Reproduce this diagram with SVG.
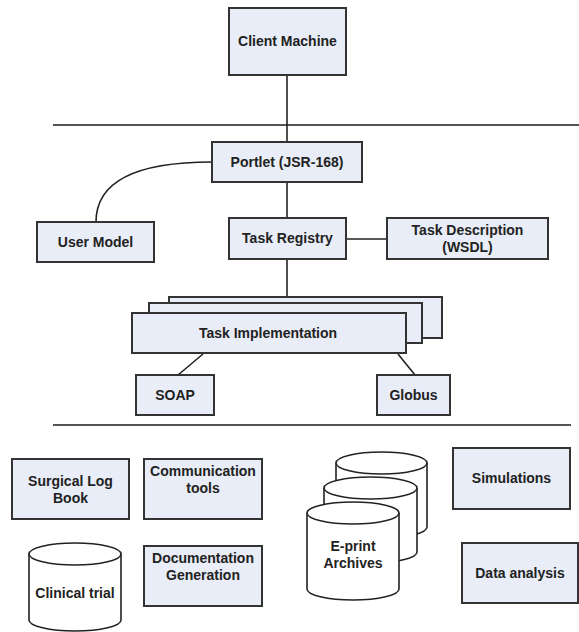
<svg xmlns="http://www.w3.org/2000/svg" width="579" height="632" viewBox="0 0 579 632">
<style>
.box{fill:#e8edf7;stroke:#333;stroke-width:2}
.cyl{fill:#fff;stroke:#222;stroke-width:1.6}
.ln{fill:none;stroke:#222;stroke-width:1.6}
.sep{fill:none;stroke:#555;stroke-width:2}
text{font-family:"Liberation Sans",Arial,sans-serif;font-weight:bold;font-size:14px;fill:#222;text-anchor:middle}
</style>
<rect width="579" height="632" fill="#fff"/>
<g id="connectors">
<line class="sep" x1="53" y1="125" x2="579" y2="125"/>
<line class="sep" x1="53" y1="425" x2="571" y2="425"/>
<line class="ln" x1="287" y1="75" x2="287" y2="142"/>
<line class="ln" x1="287" y1="182" x2="287" y2="218"/>
<path class="ln" d="M96,222 C96,180 140,162 212,162"/>
<line class="ln" x1="346" y1="239" x2="387" y2="239"/>
<line class="ln" x1="287" y1="259" x2="287" y2="297"/>
<line class="ln" x1="203" y1="354" x2="178" y2="375"/>
<line class="ln" x1="398" y1="354" x2="415" y2="375"/>
</g>
<g id="client">
<rect class="box" x="229" y="8" width="117" height="67"/>
<text x="287.5" y="46">Client Machine</text>
</g>
<g id="portlet">
<rect class="box" x="212" y="142" width="150" height="40"/>
<text x="287" y="167">Portlet (JSR-168)</text>
</g>
<g id="usermodel">
<rect class="box" x="37" y="222" width="117" height="40"/>
<text x="95.5" y="247">User Model</text>
</g>
<g id="registry">
<rect class="box" x="229" y="218" width="117" height="41"/>
<text x="287.5" y="243">Task Registry</text>
</g>
<g id="taskdesc">
<rect class="box" x="387" y="218" width="161" height="41"/>
<text x="467.5" y="235">Task Description</text>
<text x="467.5" y="252">(WSDL)</text>
</g>
<g id="taskimpl">
<rect class="box" x="169" y="297" width="273" height="41"/>
<rect class="box" x="149" y="303" width="273" height="40"/>
<rect class="box" x="132" y="313" width="274" height="40"/>
<text x="268" y="338">Task Implementation</text>
</g>
<g id="soap">
<rect class="box" x="136" y="375" width="78" height="40"/>
<text x="175" y="400">SOAP</text>
</g>
<g id="globus">
<rect class="box" x="377" y="375" width="73" height="40"/>
<text x="413.5" y="400">Globus</text>
</g>
<g id="surgical">
<rect class="box" x="12" y="459" width="117" height="60"/>
<text x="70.5" y="486">Surgical Log</text>
<text x="70.5" y="503">Book</text>
</g>
<g id="communication">
<rect class="box" x="144" y="459" width="118" height="60"/>
<text x="203" y="476">Communication</text>
<text x="203" y="493">tools</text>
</g>
<g id="clinical">
<path class="cyl" d="M29,554 L29,620 A46,11 0 0 0 121,620 L121,554 A46,11 0 0 0 29,554 Z"/>
<path class="cyl" d="M29,554 A46,11 0 0 0 121,554"/>
<text x="75" y="598">Clinical trial</text>
</g>
<g id="documentation">
<rect class="box" x="144" y="546" width="118" height="60"/>
<text x="203" y="563">Documentation</text>
<text x="203" y="580">Generation</text>
</g>
<g id="eprint">
<path class="cyl" d="M336,463 L336,527 A45.5,11 0 0 0 427,527 L427,463 A45.5,11 0 0 0 336,463 Z"/>
<path class="cyl" d="M336,463 A45.5,11 0 0 0 427,463"/>
<path class="cyl" d="M324,488 L324,552 A46.5,11 0 0 0 417,552 L417,488 A46.5,11 0 0 0 324,488 Z"/>
<path class="cyl" d="M324,488 A46.5,11 0 0 0 417,488"/>
<path class="cyl" d="M307,513 L307,589 A46,11 0 0 0 399,589 L399,513 A46,11 0 0 0 307,513 Z"/>
<path class="cyl" d="M307,513 A46,11 0 0 0 399,513"/>
<text x="353" y="551">E-print</text>
<text x="353" y="568">Archives</text>
</g>
<g id="simulations">
<rect class="box" x="453" y="448" width="117" height="61"/>
<text x="511.5" y="483">Simulations</text>
</g>
<g id="dataanalysis">
<rect class="box" x="462" y="543" width="116" height="60"/>
<text x="520" y="578">Data analysis</text>
</g>
</svg>
